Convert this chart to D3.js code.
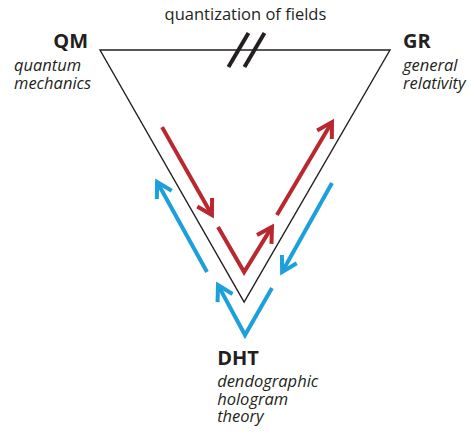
<!DOCTYPE html>
<html>
<head>
<meta charset="utf-8">
<script src="https://cdn.jsdelivr.net/npm/d3@7"></script>
<style>
  body { margin: 0; background: #ffffff; }
  svg { display: block; }
  text { font-family: "Open Sans", "Noto Sans", sans-serif; fill: #231f20; }
</style>
</head>
<body>
<svg id="chart" width="471" height="432"></svg>
<script>
/********/
/* data */
/********/

// diagram units: QM corner = (0, 0), GR corner = (100, 0), DHT apex near (50, 100)
const corners = [
  { name: "QM", x: 0, y: 0 },
  { name: "GR", x: 100, y: 0 },
  { name: "DHT", x: 49.7, y: 100 },
];

const breakMark = { x: 50.5, y: 0 };

const redArrows = [
  [[21.4, 30.6], [38.6, 65.5]],
  [[40.7, 70.2], [49.7, 88.1], [59.3, 70.2]],
  [[61.0, 65.5], [80.0, 28.6]],
];

const blueArrows = [
  [[36.9, 88.1], [19.7, 52.4]],
  [[80.0, 52.8], [62.8, 88.1]],
  [[59.3, 94.4], [50.0, 113.1], [40.7, 93.3]],
];

const title = "quantization of fields";
const labels = [
  { corner: "QM", name: "QM", sub: ["quantum", "mechanics"] },
  { corner: "GR", name: "GR", sub: ["general", "relativity"] },
  { corner: "DHT", name: "DHT", sub: ["dendographic", "hologram", "theory"] },
];

/*********/
/* setup */
/*********/

const red = "#b8282e";
const blue = "#1c9fdb";

const x = d3.scaleLinear().domain([0, 100]).range([100, 390]);
const y = d3.scaleLinear().domain([0, 100]).range([50, 302]);

const svg = d3.select("#chart");
const line = d3.line().x(d => x(d[0])).y(d => y(d[1]));

/********/
/* view */
/********/

function triangleView() {
  svg
    .append("path")
    .attr("d", line(corners.map(c => [c.x, c.y])) + "Z")
    .attr("fill", "none")
    .attr("stroke", "#231f20")
    .attr("stroke-width", 1.4)
    .attr("stroke-linejoin", "miter");

  // the "//" break on the top edge
  const bx = x(breakMark.x);
  const by = y(breakMark.y);
  [-8, 8].forEach(off => {
    svg
      .append("line")
      .attr("x1", bx + off - 10)
      .attr("y1", by + 17)
      .attr("x2", bx + off + 10)
      .attr("y2", by - 17)
      .attr("stroke", "#231f20")
      .attr("stroke-width", 4);
  });
}

function arrowView(points, colour) {
  const g = svg.append("g");
  g.append("path")
    .attr("d", line(points))
    .attr("fill", "none")
    .attr("stroke", colour)
    .attr("stroke-width", 4)
    .attr("stroke-linejoin", "miter");

  // open chevron head at the last point
  const tip = points[points.length - 1];
  const prev = points[points.length - 2];
  const tx = x(tip[0]);
  const ty = y(tip[1]);
  const back = Math.atan2(y(prev[1]) - ty, x(prev[0]) - tx);
  const len = 17;
  const spread = Math.PI / 6;
  const arms = [back - spread, back + spread].map(a => [
    tx + len * Math.cos(a),
    ty + len * Math.sin(a),
  ]);
  g.append("path")
    .attr("d", `M${arms[0][0]},${arms[0][1]}L${tx},${ty}L${arms[1][0]},${arms[1][1]}`)
    .attr("fill", "none")
    .attr("stroke", colour)
    .attr("stroke-width", 4)
    .attr("stroke-linejoin", "miter");
}

function labelsView() {
  svg
    .append("text")
    .attr("x", x(breakMark.x) - 1)
    .attr("y", 20)
    .attr("text-anchor", "middle")
    .attr("font-size", 16.5)
    .text(title);

  // name is anchored by its right edge for QM, left edge otherwise
  const offsets = {
    QM: { nx: -12, ny: -2, sx: -86, sy: 23 },
    GR: { nx: 13, ny: -2, sx: 13, sy: 23 },
    DHT: { nx: -27, ny: 63, sx: -27, sy: 22 },
  };

  labels.forEach(l => {
    const c = corners.find(d => d.name === l.corner);
    const o = offsets[l.corner];
    const lx = x(c.x) + o.nx;
    const ly = y(c.y) + o.ny;
    svg
      .append("text")
      .attr("x", lx)
      .attr("y", ly)
      .attr("text-anchor", l.corner === "QM" ? "end" : "start")
      .attr("font-size", 20)
      .attr("font-weight", "bold")
      .text(l.name);

    l.sub.forEach((s, i) => {
      svg
        .append("text")
        .attr("x", x(c.x) + o.sx)
        .attr("y", ly + o.sy + i * 17.5)
        .attr("font-size", 16.5)
        .attr("font-style", "italic")
        .text(s);
    });
  });
}

triangleView();
redArrows.forEach(a => arrowView(a, red));
blueArrows.forEach(a => arrowView(a, blue));
labelsView();
</script>
</body>
</html>
